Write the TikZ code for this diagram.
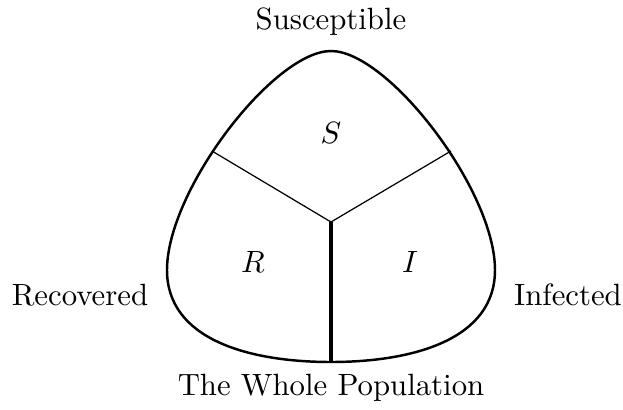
\documentclass[tikz,border=0pt]{standalone}
\begin{document}
\begin{tikzpicture}[x=0.325pt,y=-0.325pt,
  lbl/.style={inner sep=0pt,font=\fontsize{10}{12}\selectfont},
  outline/.style={line width=0.8pt},
  divider/.style={line width=0.4pt},
  stem/.style={line width=1.3pt}]
\useasboundingbox (0,0) rectangle (623,409);
\coordinate (top) at (331,51);
\coordinate (left) at (167,270);
\coordinate (bot) at (331,362);
\coordinate (right) at (495,270);
\coordinate (ctr) at (331,222);
\coordinate (lend) at (212,151);
\coordinate (rend) at (451,151);
\draw[outline] (top) .. controls (274,51) and (167,190) .. (left)
  .. controls (167,340) and (250,362) .. (bot)
  .. controls (412,362) and (495,340) .. (right)
  .. controls (495,190) and (388,51) .. (top) -- cycle;
\draw[divider] (lend) -- (ctr) -- (rend);
\draw[stem] (ctr) -- (bot);
\node[lbl] (sus) at (331,22) {Susceptible};
\node[lbl] (rec) at (80,295) {Recovered};
\node[lbl] (inf) at (568,295) {Infected};
\node[lbl] (pop) at (331,388) {The Whole Population};
\node[lbl] (S) at (331,133) {$S$};
\node[lbl] (R) at (253,262) {$R$};
\node[lbl] (I) at (410,262) {$I$};
\end{tikzpicture}
\end{document}
